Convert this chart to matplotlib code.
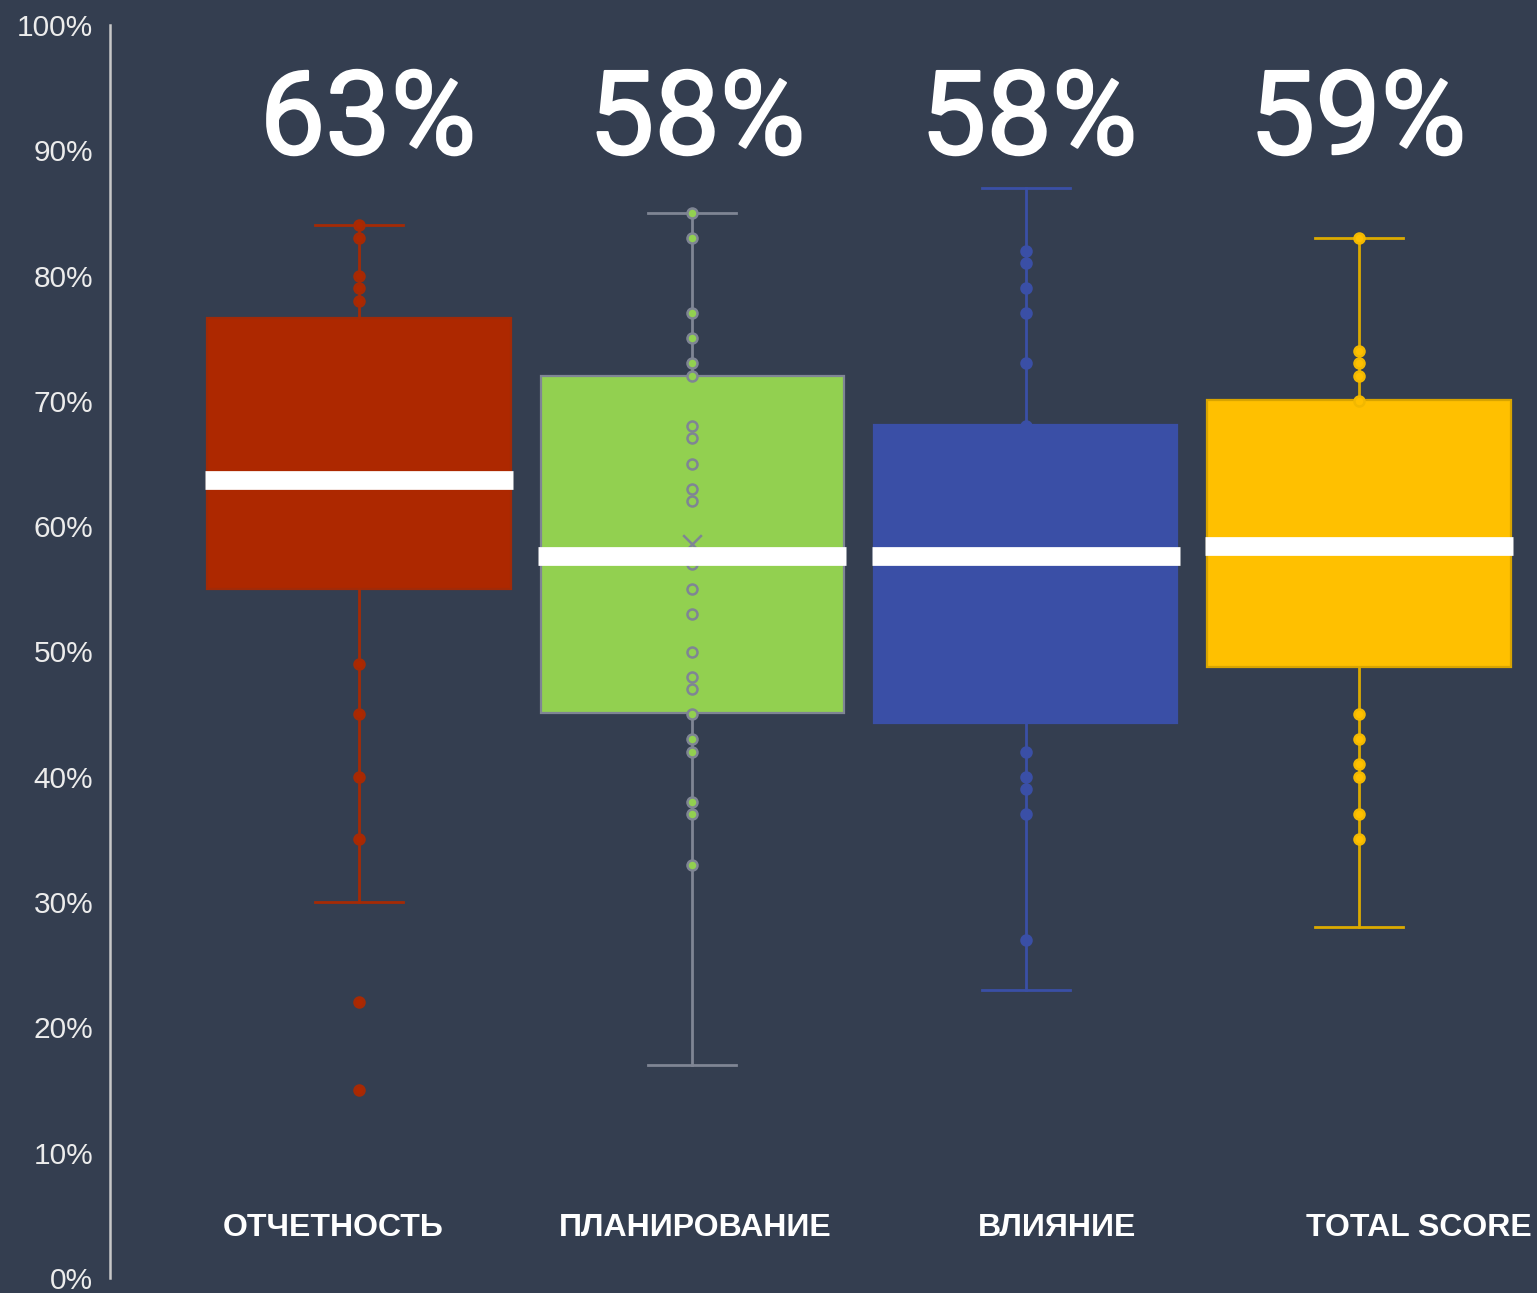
import matplotlib
matplotlib.use("Agg")
import matplotlib.pyplot as plt
import matplotlib.patheffects as pe
import numpy as np

# ---- data ----
categories = ["ОТЧЕТНОСТЬ", "ПЛАНИРОВАНИЕ", "ВЛИЯНИЕ", "TOTAL SCORE"]
headline = ["63%", "58%", "58%", "59%"]
q1 = [55.0, 45.1, 44.3, 48.8]
median = [63.7, 57.6, 57.6, 58.4]
q3 = [76.6, 72.0, 68.1, 70.1]
whisker_low = [30.0, 17.0, 23.0, 28.0]
whisker_high = [84.0, 85.0, 87.0, 83.0]
mean_green = 58.6
points_otchet = [84, 83, 80, 79, 78, 49, 45, 40, 35, 22, 15]
points_plan = [85, 83, 77, 75, 73, 72, 68, 67, 65, 63, 62, 57, 55, 53, 50, 48, 47,
               45, 43, 42, 38, 37, 33]
points_vliyanie = [82, 81, 79, 77, 73, 68, 42, 40, 39, 37, 27]
points_total = [83, 74, 73, 72, 70, 45, 43, 41, 40, 37, 35]
point_sets = [points_otchet, points_plan, points_vliyanie, points_total]
y_ticks = list(range(0, 101, 10))

# ---- styles ----
bg = "#343e50"
fills = ["#ad2800", "#92d050", "#3a4fa6", "#ffc000"]
edges = ["#a02a08", "#7f8594", "#3a4fa6", "#d8a400"]
line_cols = ["#a52a05", "#7f8594", "#3a4fa6", "#dcaa00"]
pt_edges = ["#a52a05", "#7f8594", "#3a4fa6", "#f2b800"]

W, H = 1537, 1293
fig = plt.figure(figsize=(W / 100, H / 100), dpi=100, facecolor=bg)
ax = fig.add_axes([110 / W, 15 / H, 1 - 110 / W, (1278 - 25) / H])
ax.set_facecolor(bg)

positions = np.arange(1, len(categories) + 1)
for i, pos in enumerate(positions):
    stats = [dict(q1=q1[i], med=median[i], q3=q3[i], whislo=whisker_low[i],
                  whishi=whisker_high[i], fliers=[], label=categories[i])]
    ax.bxp(stats, positions=[pos], widths=0.91, patch_artist=True,
           showfliers=False, capwidths=0.265,
           boxprops=dict(facecolor=fills[i], edgecolor=edges[i], linewidth=1.6),
           whiskerprops=dict(color=line_cols[i], linewidth=2.0),
           capprops=dict(color=line_cols[i], linewidth=2.0),
           medianprops=dict(color="white", linewidth=0),
           zorder=2)
    pts = point_sets[i]
    ax.scatter(np.full(len(pts), pos), pts, s=52, facecolor=fills[i],
               edgecolor=pt_edges[i], linewidth=1.8, zorder=4)
    if i == 1:
        ax.scatter([pos], [mean_green], marker="x", s=180, color="#7f8594",
                   linewidth=1.8, zorder=4)
    # median bar
    ax.plot([pos - 0.462, pos + 0.462], [median[i], median[i]], color="white",
            linewidth=13.5, solid_capstyle="butt", zorder=5)

ax.set_xlim(0.253, 4.534)
ax.set_ylim(0, 100)
ax.set_yticks(y_ticks)
ax.set_yticklabels([f"{t}%" for t in y_ticks], fontsize=21.5,
                   color="#ececec", family="Liberation Sans")
ax.tick_params(axis="y", length=0, pad=12)
ax.set_xticks([])
for s in ["top", "right", "bottom"]:
    ax.spines[s].set_visible(False)
ax.spines["left"].set_color("#c8c8c8")
ax.spines["left"].set_linewidth(1.8)

# headline percentages
head_x = [368, 697, 1029, 1358]
for hx, txt in zip(head_x, headline):
    fig.text(hx / W, 1 - 122 / H, txt, ha="center", va="center", fontsize=84,
             color="white", family="Roboto", fontweight="normal",
             path_effects=[pe.withStroke(linewidth=1.6, foreground="white")])

# category labels
cat_x = [333, 695, 1057, 1419]
for cx, txt in zip(cat_x, categories):
    fig.text(cx / W, 1 - 1228 / H, txt, ha="center", va="center", fontsize=23,
             color="white", family="Liberation Sans", fontweight="bold")

fig.savefig("out.png", dpi=100, facecolor=bg)
